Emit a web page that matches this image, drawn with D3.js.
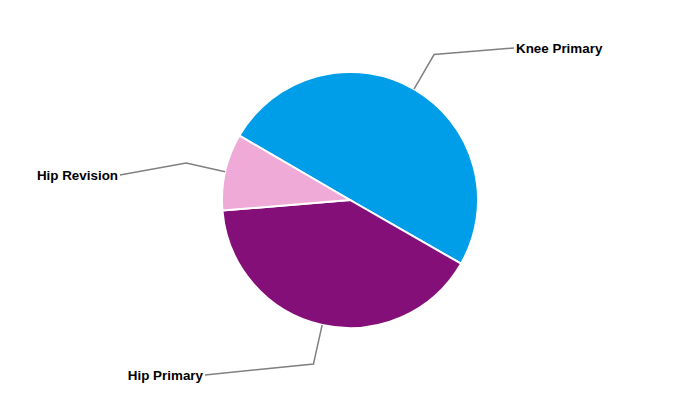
<!DOCTYPE html>
<html lang="en">
  <head>
    <meta charset="utf-8" />
    <script src="https://d3js.org/d3.v7.min.js"></script>
    <style>
      body { margin: 0; background: #fff; }
      .label { font-family: "Liberation Sans", Arial, sans-serif; font-size: 13.4px; font-weight: bold; fill: #000; }
    </style>
  </head>
  <body>
    <div id="chart"></div>
    <script>
      const categories = ["Knee Primary", "Hip Primary", "Hip Revision"];
      const values = [49.9, 40.4, 9.7];
      const colors = ["#009ee9", "#850f78", "#f0aad8"];

      // where each label's line ends (relative to the pie centre) and which side the text sits
      const labelEnds = [
        { dx: 164, dy: -152, anchor: "start" },
        { dx: -145, dy: 175, anchor: "end" },
        { dx: -230, dy: -25, anchor: "end" },
      ];

      const width = 700;
      const height = 400;
      const cx = 350;
      const cy = 200;
      const radius = 128;

      const data = categories.map((c, i) => ({ name: c, value: values[i], color: colors[i], end: labelEnds[i] }));

      const svg = d3
        .select("#chart")
        .append("svg")
        .attr("width", width)
        .attr("height", height);

      const g = svg.append("g").attr("transform", `translate(${cx},${cy})`);

      const startA = (-59.8 * Math.PI) / 180;
      const pie = d3
        .pie()
        .sort(null)
        .value((d) => d.value)
        .startAngle(startA)
        .endAngle(startA + 2 * Math.PI);

      const arc = d3.arc().innerRadius(0).outerRadius(radius);
      const arcs = pie(data);

      g.selectAll("path.slice")
        .data(arcs)
        .enter()
        .append("path")
        .attr("class", "slice")
        .attr("d", arc)
        .attr("fill", (d) => d.data.color)
        .attr("stroke", "#fff")
        .attr("stroke-width", 2);

      const pointAt = (a, r) => [r * Math.sin(a), -r * Math.cos(a)];

      arcs.forEach((d) => {
        const mid = (d.startAngle + d.endAngle) / 2;
        const p0 = pointAt(mid, radius);
        const p1 = pointAt(mid, 168);
        const e = d.data.end;
        g.append("polyline")
          .attr("points", [p0, p1, [e.dx, e.dy]].map((p) => p.join(",")).join(" "))
          .attr("fill", "none")
          .attr("stroke", "#808080")
          .attr("stroke-width", 1.5);
        g.append("text")
          .attr("class", "label")
          .attr("x", e.anchor === "start" ? e.dx + 2 : e.dx - 2)
          .attr("y", e.dy)
          .attr("dy", "0.35em")
          .attr("text-anchor", e.anchor)
          .text(d.data.name);
      });
    </script>
  </body>
</html>
